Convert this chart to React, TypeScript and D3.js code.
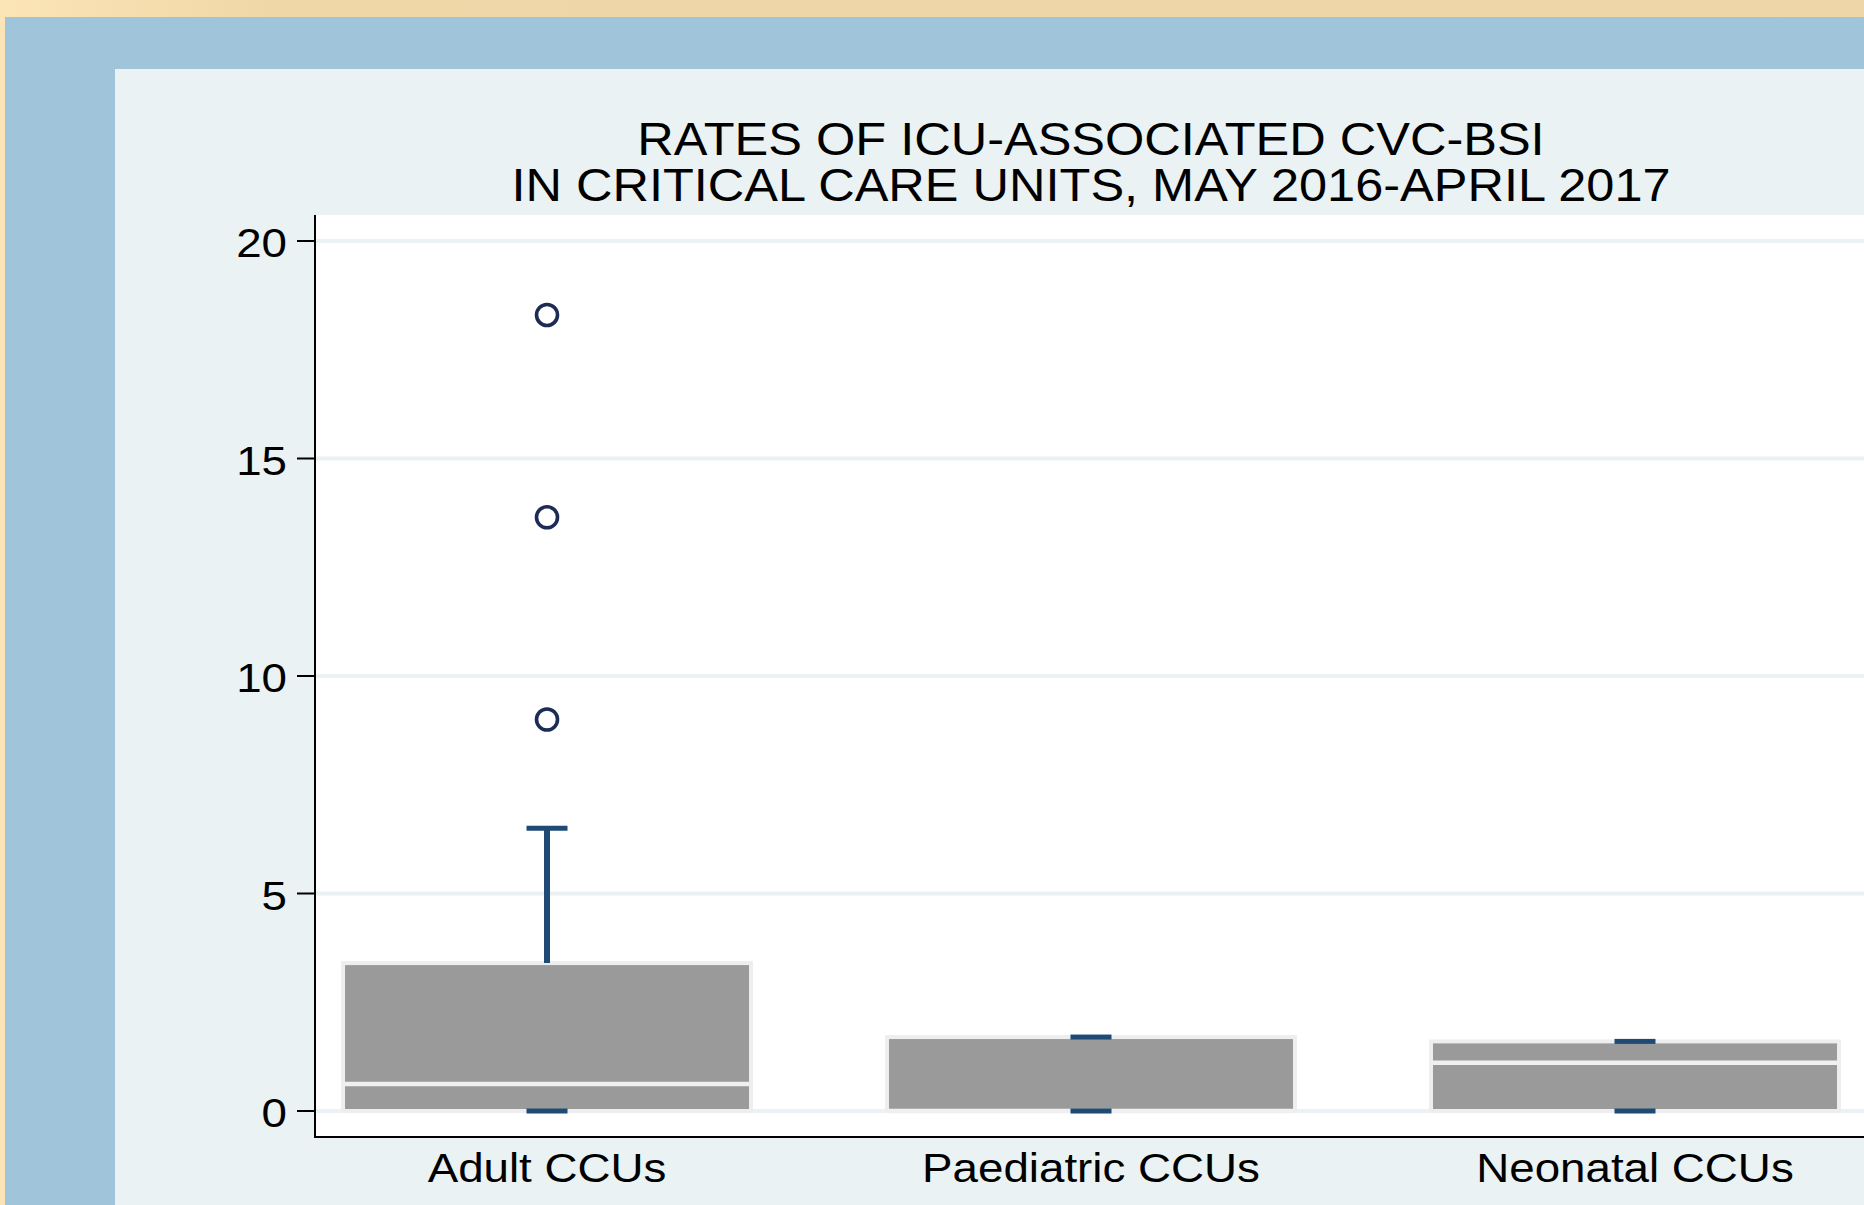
import * as d3 from "d3";
import React from "react";

// chart data
const categories = ["Adult CCUs", "Paediatric CCUs", "Neonatal CCUs"];
const q1 = [0, 0, 0];
const medians = [0.62, 0, 1.11];
const q3 = [3.4, 1.7, 1.6];
const whiskerLow = [0, 0, 0];
const whiskerHigh = [6.5, 1.7, 1.6];
const outliers = [[18.3, 13.65, 9.0], [], []];
const yTicks = [0, 5, 10, 15, 20];
const titleLines = ["RATES OF ICU-ASSOCIATED CVC-BSI", "IN CRITICAL CARE UNITS, MAY 2016-APRIL 2017"];

const W = 1864;
const H = 1205;
const FONT = "'Liberation Sans', Arial, Helvetica, sans-serif";
const SX = 1.115; // text in the picture is a bit wider than tall

const plot = { left: 315, right: 1867, top: 215, bottom: 1137 };

export default function App() {
  const x = d3.scalePoint<string>().domain(categories).range([plot.left, plot.right]).padding(0.4265);
  const y = d3.scaleLinear().domain([0, 20]).range([1111, 241]);
  const boxW = x.step() * 0.75;
  const capW = 41;
  const border = 4;

  return (
    <div style={{ position: "fixed", left: 0, top: 0 }}>
      <svg width={W} height={H} style={{ display: "block" }} fontFamily={FONT}>
        <defs>
          <linearGradient id="frame" x1="0" x2="1" y1="0" y2="0">
            <stop offset="0" stopColor="#FBE4B6" />
            <stop offset="0.15" stopColor="#F0D7A8" />
            <stop offset="1" stopColor="#EFD6A8" />
          </linearGradient>
        </defs>
        {/* outer frames */}
        <rect x={0} y={0} width={W} height={H} fill="url(#frame)" />
        <rect x={5} y={17} width={W} height={H} fill="#A0C4DA" />
        <rect x={115} y={69} width={W} height={H} fill="#EAF2F4" />
        {/* plot region */}
        <rect x={plot.left} y={plot.top} width={plot.right - plot.left} height={plot.bottom - plot.top} fill="#FFFFFF" />

        {/* gridlines */}
        {yTicks.map((t) => (
          <line key={"g" + t} x1={plot.left} x2={plot.right} y1={y(t)} y2={y(t)} stroke="#EAF2F3" strokeWidth={4} />
        ))}

        {/* boxes */}
        {categories.map((c, i) => {
          const cx = x(c) as number;
          const top = y(q3[i]);
          const bot = y(q1[i]);
          return (
            <g key={c}>
              <rect x={cx - boxW / 2 - border / 2} y={top - border / 2} width={boxW + border} height={bot - top + border} fill="#EEEEEE" />
              {/* whiskers */}
              <line x1={cx} x2={cx} y1={y(whiskerHigh[i])} y2={top} stroke="#1F4A75" strokeWidth={6} />
              <line x1={cx} x2={cx} y1={bot} y2={y(whiskerLow[i])} stroke="#1F4A75" strokeWidth={6} />
              <rect x={cx - boxW / 2 + border / 2} y={top + border / 2} width={boxW - border} height={bot - top - border} fill="#9A9A9A" />
              <line x1={cx - boxW / 2 + border / 2} x2={cx + boxW / 2 - border / 2} y1={y(medians[i])} y2={y(medians[i])} stroke="#F0F0F0" strokeWidth={4.5} />
              <rect x={cx - capW / 2} y={y(whiskerHigh[i]) - 2.5} width={capW} height={5} fill="#1F4A75" />
              <rect x={cx - capW / 2} y={y(whiskerLow[i]) - 2.5} width={capW} height={5} fill="#1F4A75" />
              {outliers[i].map((v, k) => (
                <circle key={k} cx={cx} cy={y(v)} r={10.5} fill="none" stroke="#1C2C55" strokeWidth={3.6} />
              ))}
            </g>
          );
        })}

        {/* axes */}
        <line x1={plot.left} x2={plot.left} y1={plot.top} y2={plot.bottom + 1} stroke="#000" strokeWidth={2} />
        <line x1={plot.left - 1} x2={plot.right} y1={plot.bottom} y2={plot.bottom} stroke="#000" strokeWidth={2} />
        {yTicks.map((t) => (
          <g key={"t" + t}>
            <line x1={297} x2={plot.left} y1={y(t)} y2={y(t)} stroke="#000" strokeWidth={2} />
            <text transform={`translate(287,${y(t) + 16}) scale(${SX},1)`} textAnchor="end" fontSize={41} fill="#000">
              {t}
            </text>
          </g>
        ))}
        {categories.map((c) => (
          <text key={"x" + c} transform={`translate(${x(c)},1181.5) scale(${SX},1)`} textAnchor="middle" fontSize={41} fill="#000">
            {c}
          </text>
        ))}

        {/* title */}
        {titleLines.map((l, i) => (
          <text key={l} transform={`translate(${(plot.left + plot.right) / 2},${155 + i * 45.7}) scale(${SX},1)`} textAnchor="middle" fontSize={45.3} fill="#000">
            {l}
          </text>
        ))}
      </svg>
    </div>
  );
}
